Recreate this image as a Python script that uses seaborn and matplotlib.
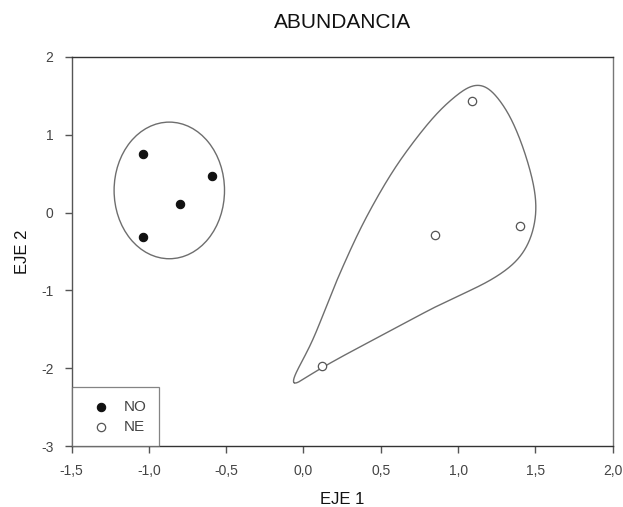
import numpy as np
import pandas as pd
import seaborn as sns
import matplotlib
matplotlib.use("Agg")
import matplotlib.pyplot as plt
from matplotlib.patches import Ellipse
from matplotlib.ticker import FuncFormatter, FixedLocator

# Ordination scores per site
groups = ["NO", "NO", "NO", "NO", "NE", "NE", "NE", "NE"]
eje1 = [-1.04, -0.59, -0.80, -1.04, 0.12, 0.85, 1.09, 1.40]
eje2 = [0.75, 0.47, 0.11, -0.31, -1.97, -0.29, 1.44, -0.17]

# Outline enclosing the NE sites (anchor points of a smooth closed curve)
ne_outline_x = [-0.085, 0.060, 0.225, 0.420, 0.660, 0.953, 1.136, 1.277, 1.450,
                1.504, 1.413, 1.245, 0.856, 0.532, 0.208, 0.010]
ne_outline_y = [-2.255, -1.640, -0.830, -0.009, 0.770, 1.447, 1.668, 1.425, 0.654,
                -0.031, -0.545, -0.828, -1.209, -1.551, -1.895, -2.125]

# Semi-axes of the ellipse around the NO sites
no_half_width, no_half_height = 0.357, 0.878

x_ticks = [-1.5, -1.0, -0.5, 0.0, 0.5, 1.0, 1.5, 2.0]
y_ticks = [-3, -2, -1, 0, 1, 2]

df = pd.DataFrame({"grupo": groups, "EJE 1": eje1, "EJE 2": eje2})

sns.set_theme(style="white")
plt.rcParams["font.family"] = ["Liberation Sans", "DejaVu Sans"]

fig = plt.figure(figsize=(6.23, 5.07), dpi=100)
ax = fig.add_axes([71.5 / 623, 1 - 446 / 507, (612.7 - 71.5) / 623, (446 - 57) / 507])

line_col = "#6e6e6e"


def closed_centripetal_cr(xs, ys, n=60, alpha=0.5):
    pts = np.column_stack([xs, ys]).astype(float)
    m = len(pts)
    out = []
    for i in range(m):
        p0, p1, p2, p3 = pts[(i - 1) % m], pts[i], pts[(i + 1) % m], pts[(i + 2) % m]
        t0 = 0.0
        t1 = t0 + np.linalg.norm(p1 - p0) ** alpha
        t2 = t1 + np.linalg.norm(p2 - p1) ** alpha
        t3 = t2 + np.linalg.norm(p3 - p2) ** alpha
        t = np.linspace(t1, t2, n, endpoint=False)[:, None]
        a1 = (t1 - t) / (t1 - t0) * p0 + (t - t0) / (t1 - t0) * p1
        a2 = (t2 - t) / (t2 - t1) * p1 + (t - t1) / (t2 - t1) * p2
        a3 = (t3 - t) / (t3 - t2) * p2 + (t - t2) / (t3 - t2) * p3
        b1 = (t2 - t) / (t2 - t0) * a1 + (t - t0) / (t2 - t0) * a2
        b2 = (t3 - t) / (t3 - t1) * a2 + (t - t1) / (t3 - t1) * a3
        out.append((t2 - t) / (t2 - t1) * b1 + (t - t1) / (t2 - t1) * b2)
    return np.vstack(out)


def smooth_closed(curve, aspect, sigma=0.05, n=1500):
    # resample by arc length (aspect-corrected) and apply a periodic Gaussian filter
    scaled = curve * np.array([1.0, aspect])
    seg = np.linalg.norm(np.diff(np.vstack([scaled, scaled[:1]]), axis=0), axis=1)
    s = np.concatenate([[0], np.cumsum(seg)])
    total = s[-1]
    closed = np.vstack([curve, curve[:1]])
    su = np.linspace(0, total, n, endpoint=False)
    res = np.column_stack([np.interp(su, s, closed[:, 0]), np.interp(su, s, closed[:, 1])])
    ds = total / n
    half = int(4 * sigma / ds)
    k = np.exp(-0.5 * ((np.arange(-half, half + 1) * ds) / sigma) ** 2)
    k /= k.sum()
    sm = np.empty_like(res)
    for j in range(2):
        padded = np.concatenate([res[-half:, j], res[:, j], res[:half, j]])
        sm[:, j] = np.convolve(padded, k, mode="valid")
    return np.vstack([sm, sm[:1]])


# one unit of EJE 2 spans about half as many pixels as one unit of EJE 1
raw = closed_centripetal_cr(ne_outline_x, ne_outline_y)
curve = smooth_closed(raw, aspect=77.8 / 154.3, sigma=0.06)
ax.plot(curve[:, 0], curve[:, 1], color=line_col, lw=1.0, zorder=1)

no_df = df[df["grupo"] == "NO"]
ell = Ellipse((no_df["EJE 1"].mean(), no_df["EJE 2"].mean() + 0.03),
              2 * no_half_width, 2 * no_half_height,
              fill=False, edgecolor=line_col, lw=1.0, zorder=1)
ax.add_patch(ell)

sns.scatterplot(data=df[df["grupo"] == "NO"], x="EJE 1", y="EJE 2", ax=ax,
                color="#111111", edgecolor="#111111", s=36, linewidth=0.8,
                label="NO", zorder=3)
sns.scatterplot(data=df[df["grupo"] == "NE"], x="EJE 1", y="EJE 2", ax=ax,
                color="white", edgecolor="#555555", s=36, linewidth=0.9,
                label="NE", zorder=3)

ax.set_xlim(-1.5, 2.0)
ax.set_ylim(-3, 2)
ax.xaxis.set_major_locator(FixedLocator(x_ticks))
ax.yaxis.set_major_locator(FixedLocator(y_ticks))
fmt = FuncFormatter(lambda v, p: (f"{v:.1f}").replace(".", ",").replace("-0,0", "0,0"))
ax.xaxis.set_major_formatter(fmt)
ax.yaxis.set_major_formatter(FuncFormatter(lambda v, p: f"{int(round(v))}"))

ax.tick_params(axis="both", which="major", direction="out", length=5, width=1,
               color="#555555", labelsize=10, labelcolor="#444444", pad=8)
ax.tick_params(top=False, right=False, bottom=True, left=True)

for side in ["top", "right", "left", "bottom"]:
    ax.spines[side].set_visible(True)
    ax.spines[side].set_linewidth(1.0)
ax.spines["top"].set_color("#333333")
ax.spines["bottom"].set_color("#333333")
ax.spines["left"].set_color("#555555")
ax.spines["right"].set_color("#777777")

ax.set_xlabel("EJE 1", fontsize=12, color="#111111", labelpad=10)
ax.set_ylabel("EJE 2", fontsize=12, color="#111111", labelpad=8)
ax.set_title("ABUNDANCIA", fontsize=15, color="#111111", pad=21)

leg = ax.legend(loc="lower left", frameon=True, fancybox=False, fontsize=11,
                borderaxespad=0, handletextpad=0.4, borderpad=0.8,
                labelspacing=0.4, handlelength=2.2, labelcolor="#444444")
leg.get_frame().set_edgecolor("#666666")
leg.get_frame().set_linewidth(0.9)

fig.savefig("out.png", dpi=100, facecolor="white")
